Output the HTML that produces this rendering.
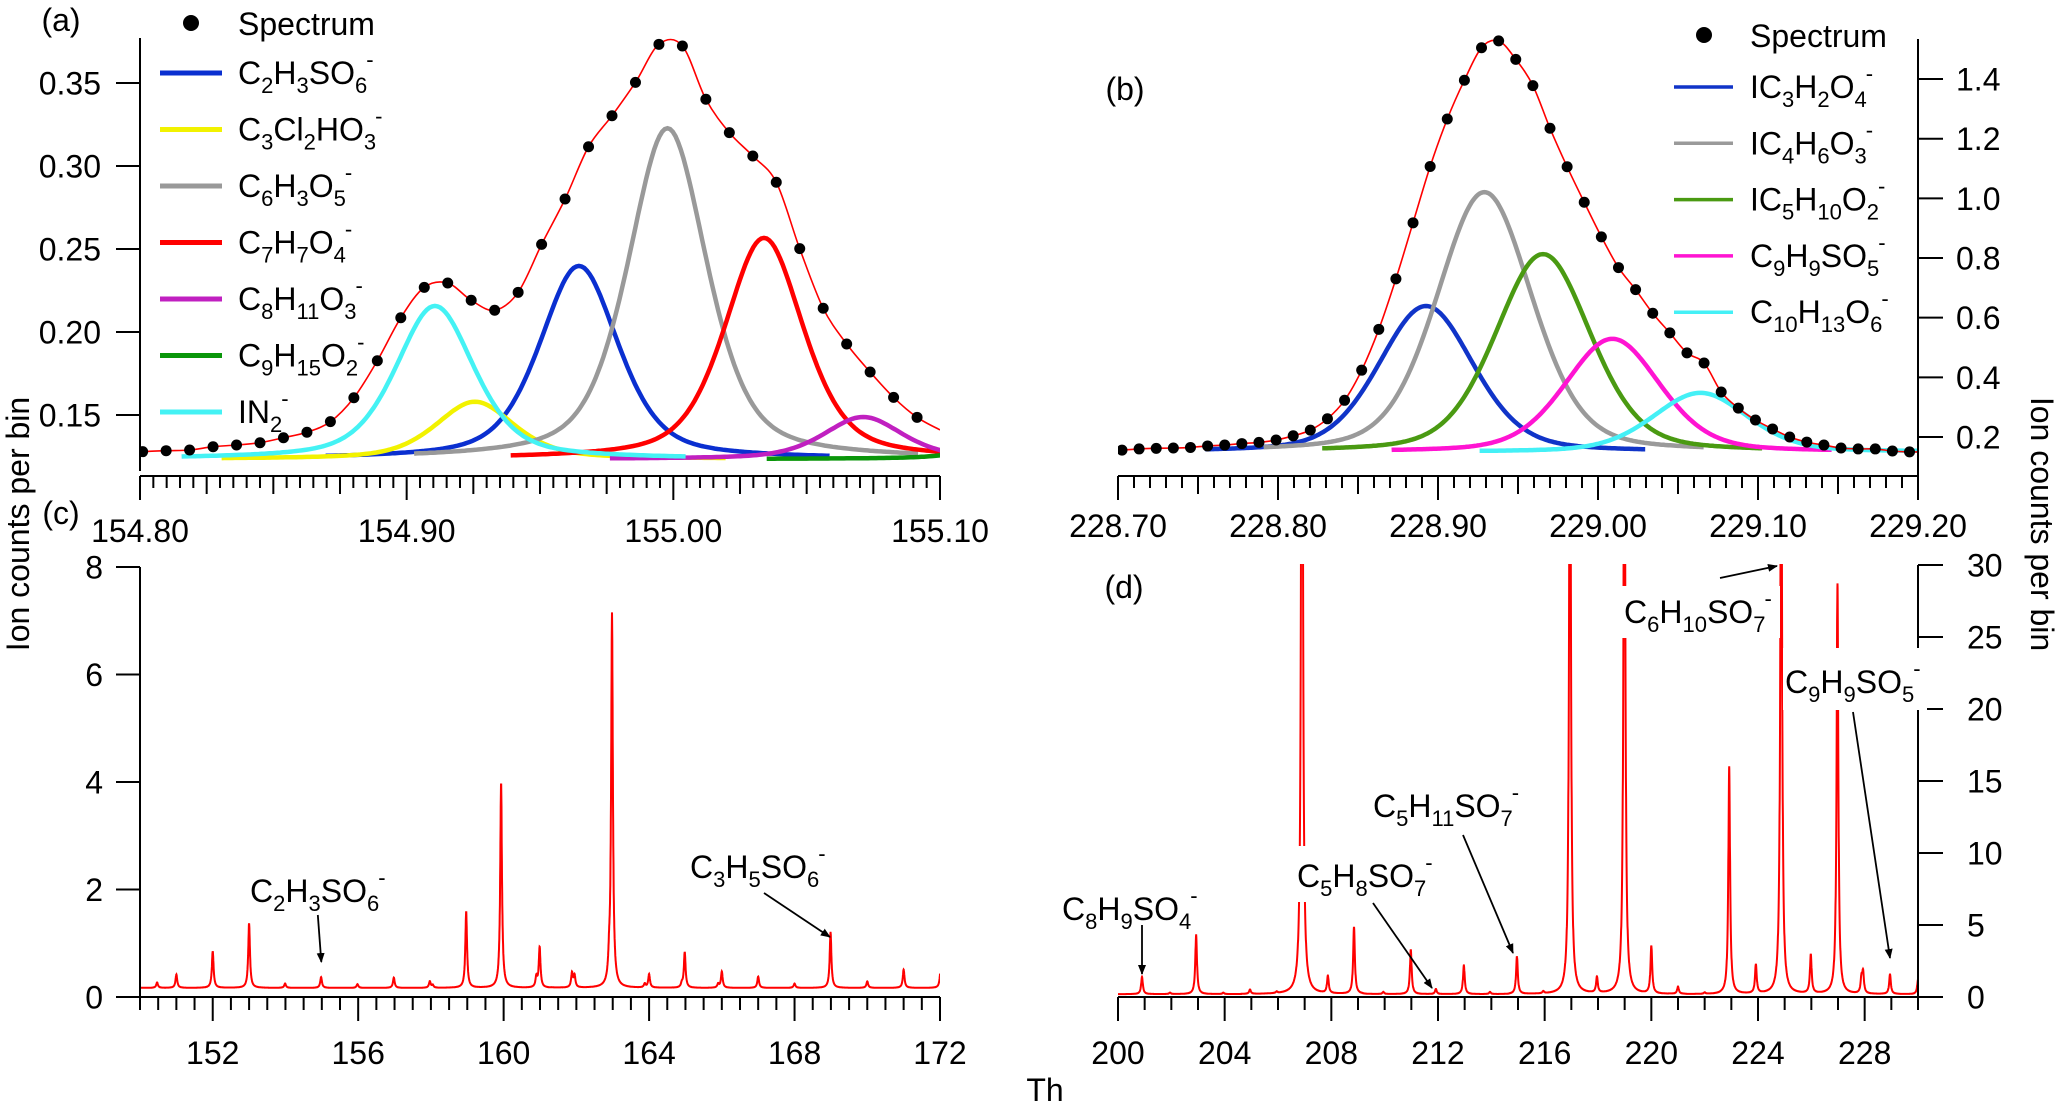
<!DOCTYPE html>
<html><head><meta charset="utf-8"><style>
html,body{margin:0;padding:0;background:#fff;}
svg{display:block;font-family:"Liberation Sans",Arial,sans-serif;}
</style></head><body>
<svg id="chart" width="2067" height="1104" viewBox="0 0 2067 1104" xmlns="http://www.w3.org/2000/svg">
<defs>
<clipPath id="clipA"><rect x="140" y="30" width="800" height="445"/></clipPath>
<clipPath id="clipB"><rect x="1118" y="30" width="800" height="445"/></clipPath>
<clipPath id="clipC"><rect x="140" y="566" width="800" height="431"/></clipPath>
<clipPath id="clipD"><rect x="1118" y="564" width="800" height="433"/></clipPath>
<marker id="arr" markerWidth="10" markerHeight="10" refX="9" refY="5" orient="auto" markerUnits="userSpaceOnUse" viewBox="0 0 10 10"><path d="M0,1 L10,5 L0,9 Z" fill="#000"/></marker>
</defs>
<g id="root"></g>
</svg>
<script>
// ---------- Panel (a) data ----------
const aDotStart = 154.801;
const aDotStep = 0.0088;
const aDotVals = [0.1279,0.1285,0.1289,0.1309,0.1319,0.1333,0.1363,0.1396,0.1460,0.1604,0.1827,0.2086,0.2269,0.2295,0.2191,0.2131,0.2239,0.2528,0.2801,0.3116,0.3303,0.3504,0.3733,0.3723,0.3402,0.3201,0.3060,0.2902,0.2502,0.2143,0.1928,0.1759,0.1606,0.1486];
const aFitEnds = [0.1275, 0.141];
const aCompNames = ["C_2H_3SO_6^-","C_3Cl_2HO_3^-","C_6H_3O_5^-","C_7H_7O_4^-","C_8H_11O_3^-","C_9H_15O_2^-","IN_2^-"];
const aCompCenters = [154.9646,154.9256,154.9978,155.034,155.0712,155.13,154.9106];
const aCompPeaks = [0.2398,0.158,0.3228,0.2567,0.1488,0.135,0.2157];
const aColors = ["#0a2fd0","#f2f200","#999999","#ff0000","#c020c0","#0a960a","#44f2f4"];
const aBase = 0.1235;
const aYTicks = [0.15,0.20,0.25,0.30,0.35];
const aXLabels = ["154.80","154.90","155.00","155.10"];
// ---------- Panel (b) data ----------
const bDotStart = 228.7025;
const bDotStep = 0.0107;
const bDotVals = [0.156,0.160,0.162,0.163,0.165,0.170,0.173,0.178,0.182,0.190,0.204,0.223,0.261,0.323,0.424,0.561,0.730,0.918,1.107,1.266,1.396,1.505,1.528,1.466,1.378,1.235,1.106,0.987,0.871,0.768,0.694,0.615,0.549,0.482,0.448,0.351,0.297,0.257,0.227,0.200,0.183,0.173,0.163,0.160,0.160,0.153,0.150];
const bFitEnds = [0.155, 0.150];
const bCompNames = ["IC_3H_2O_4^-","IC_4H_6O_3^-","IC_5H_10O_2^-","C_9H_9SO_5^-","C_10H_13O_6^-"];
const bCompCenters = [228.8925,228.929,228.9656,229.009,229.064];
const bCompPeaks = [0.639,1.021,0.813,0.529,0.348];
const bColors = ["#1034c8","#9a9a9a","#4a9a12","#ff14d2","#44f0f6"];
const bBase = 0.150;
const bYTicks = [0.2,0.4,0.6,0.8,1.0,1.2,1.4];
const bXLabels = ["228.70","228.80","228.90","229.00","229.10","229.20"];
// ---------- Panel (c) data ----------
const cMass = [150.47,151.0,152.0,153.0,153.99,154.98,155.98,156.98,157.97,158.05,158.97,159.93,160.9,160.99,161.88,161.95,162.9,162.98,163.88,164.0,164.9,164.98,165.9,166.0,167.0,168.0,168.99,170.0,171.0,172.02];
const cHeight = [0.1,0.25,0.68,1.2,0.08,0.2,0.07,0.19,0.12,0.05,1.41,3.8,0.19,0.75,0.27,0.22,0.32,6.95,0.07,0.25,0.07,0.66,0.07,0.3,0.21,0.08,1.03,0.12,0.34,0.4];
const cBase = 0.17;
const cYTicks = [0,2,4,6,8];
const cXLabels = [152,156,160,164,168,172];
// ---------- Panel (d) data ----------
const dMass = [200.9,201.95,202.93,203.95,204.95,205.95,206.9,207.87,208.85,209.95,210.98,211.92,212.97,213.95,214.96,215.95,216.95,217.96,218.99,220.0,221.0,222.0,222.92,223.92,224.87,225.98,226.98,227.88,227.94,228.95,230.0];
const dHeight = [1.2,0.1,4.1,0.1,0.3,0.1,60,1.2,4.6,0.15,3.1,0.35,2.0,0.15,2.6,0.15,50,1.1,50,3.3,0.5,0.1,15.8,2.0,45,2.7,28.5,1.0,1.4,1.35,1.0];
const dBase = 0.2;
const dYTicks = [0,5,10,15,20,25,30];
const dXLabels = [200,204,208,212,216,220,224,228];

const NS = "http://www.w3.org/2000/svg";
const root = document.getElementById("root");
function mk(tag, attrs, parent) {
  const e = document.createElementNS(NS, tag);
  for (const k in attrs) e.setAttribute(k, attrs[k]);
  (parent || root).appendChild(e);
  return e;
}
function fm(s) {
  let h = s.replace(/_(\d+)/g, '<tspan font-size="22" baseline-shift="-9">$1</tspan>');
  h = h.replace(/\^-/g, '<tspan font-size="22" baseline-shift="17" dx="-1">-</tspan>');
  return h;
}
// axis functions
const xa = v => 140 + (v - 154.8) / 0.3 * 800;
const ya = v => 415 - (v - 0.15) * 1660;
const xb = v => 1118 + (v - 228.7) * 1600;
const yb = v => 437 - (v - 0.2) * 298.3;
const xc = v => 140 + (v - 150) * 800 / 22;
const yc = v => 997 - v * 53.75;
const xd = v => 1118 + (v - 200) * 800 / 30;
const yd = v => 997 - v * 14.4;

function pv(x, c, fwhm, eta) {
  const hw = fwhm / 2, d = x - c;
  const L = 1 / (1 + (d / hw) * (d / hw));
  const G = Math.exp(-Math.LN2 * (d / hw) * (d / hw));
  return eta * L + (1 - eta) * G;
}
function catmull(pts) {
  let d = "M" + pts[0][0].toFixed(1) + "," + pts[0][1].toFixed(1);
  for (let i = 0; i < pts.length - 1; i++) {
    const p0 = pts[Math.max(0, i - 1)], p1 = pts[i], p2 = pts[i + 1], p3 = pts[Math.min(pts.length - 1, i + 2)];
    const c1x = p1[0] + (p2[0] - p0[0]) / 6, c1y = p1[1] + (p2[1] - p0[1]) / 6;
    const c2x = p2[0] - (p3[0] - p1[0]) / 6, c2y = p2[1] - (p3[1] - p1[1]) / 6;
    d += "C" + c1x.toFixed(1) + "," + c1y.toFixed(1) + " " + c2x.toFixed(1) + "," + c2y.toFixed(1) + " " + p2[0].toFixed(1) + "," + p2[1].toFixed(1);
  }
  return d;
}
function txt(x, y, str, anchor, size, name) {
  const t = mk("text", {x: x, y: y, "font-size": size || 32, "text-anchor": anchor || "start", fill: "#000"});
  t.innerHTML = fm(str);
  
  
  return t;
}
function line(x1, y1, x2, y2, w, name, color) {
  const l = mk("line", {x1: x1, y1: y1, x2: x2, y2: y2, stroke: color || "#000", "stroke-width": w || 2});
  
  
  return l;
}

// ================= PANEL A =================
const gA = mk("g", {"clip-path": "url(#clipA)"});


for (let k = 0; k < aCompNames.length; k++) {
  const pts = [];
  for (let v = aCompCenters[k] - 0.095; v <= aCompCenters[k] + 0.095; v += 0.001) {
    pts.push(xa(v).toFixed(1) + "," + ya(aBase + (aCompPeaks[k] - aBase) * pv(v, aCompCenters[k], 0.035, 0.5)).toFixed(1));
  }
  const p = mk("polyline", {points: pts.join(" "), fill: "none", stroke: aColors[k], "stroke-width": 4.5}, gA);
  
  
}
{
  const pts = [[xa(154.8), ya(aFitEnds[0])]];
  aDotVals.forEach((v, i) => pts.push([xa(aDotStart + i * aDotStep), ya(v)]));
  pts.push([xa(155.1), ya(aFitEnds[1])]);
  const f = mk("path", {d: catmull(pts), fill: "none", stroke: "#ff0000", "stroke-width": 1.6}, gA);
  
  
  aDotVals.forEach((v, i) => {
    const c = mk("circle", {cx: xa(aDotStart + i * aDotStep), cy: ya(v), r: 5.5, fill: "#000"}, gA);
    
    
  });
}
line(140, 38, 140, 471, 2, 'panel-a-y-axis');
aYTicks.forEach(v => {
  line(116, ya(v), 140, ya(v), 2, 'panel-a-y-tick');
  txt(101, ya(v) + 11.5, v.toFixed(2), "end", 32, 'panel-a-y-tick-label');
});
line(140, 476, 940, 476, 2, 'panel-a-x-axis');
for (let i = 0; i <= 60; i++) {
  const v = 154.8 + i * 0.005;
  const len = (i % 20 === 0) ? 24 : (i % 5 === 0 ? 18 : 12);
  line(xa(v), 476, xa(v), 476 + len, 2, 'panel-a-x-tick');
}
aXLabels.forEach(s => txt(xa(parseFloat(s)), 542, s, "middle", 32, 'panel-a-x-tick-label'));
txt(61, 31, "(a)", "middle", 32, 'panel-a-label');
// legend a
{
  const c = mk("circle", {cx: 191, cy: 23, r: 8, fill: "#000"});
  
  
  txt(238, 35, "Spectrum", "start", 32, 'legend-a-spectrum-label');
  for (let k = 0; k < aCompNames.length; k++) {
    const y = 73 + k * 56.5;
    line(160, y, 222, y, 5, 'legend-a-line-' + k, aColors[k]);
    txt(238, y + 11, aCompNames[k], "start", 32, 'legend-a-label-' + k);
  }
}

// ================= PANEL B =================
const gB = mk("g", {"clip-path": "url(#clipB)"});


for (let k = 0; k < bCompNames.length; k++) {
  const pts = [];
  for (let v = bCompCenters[k] - 0.138; v <= bCompCenters[k] + 0.138; v += 0.001) {
    pts.push(xb(v).toFixed(1) + "," + yb(bBase + (bCompPeaks[k] - bBase) * pv(v, bCompCenters[k], 0.07, 0.3)).toFixed(1));
  }
  const p = mk("polyline", {points: pts.join(" "), fill: "none", stroke: bColors[k], "stroke-width": 4.5}, gB);
  
  
}
{
  const pts = [];
  bDotVals.forEach((v, i) => pts.push([xb(bDotStart + i * bDotStep), yb(v)]));
  pts.push([xb(229.2), yb(bFitEnds[1])]);
  const f = mk("path", {d: catmull(pts), fill: "none", stroke: "#ff0000", "stroke-width": 1.6}, gB);
  
  
  bDotVals.forEach((v, i) => {
    const c = mk("circle", {cx: xb(bDotStart + i * bDotStep), cy: yb(v), r: 5.5, fill: "#000"}, gB);
    
    
  });
}
line(1918, 39, 1918, 476, 2, 'panel-b-y-axis');
bYTicks.forEach(v => {
  line(1918, yb(v), 1943, yb(v), 2, 'panel-b-y-tick');
  txt(1956, yb(v) + 11.5, v.toFixed(1), "start", 32, 'panel-b-y-tick-label');
});
line(1118, 476, 1918, 476, 2, 'panel-b-x-axis');
for (let i = 0; i <= 50; i++) {
  const v = 228.7 + i * 0.01;
  const len = (i % 10 === 0) ? 24 : (i % 5 === 0 ? 18 : 12);
  line(xb(v), 476, xb(v), 476 + len, 2, 'panel-b-x-tick');
}
bXLabels.forEach(s => txt(xb(parseFloat(s)), 537, s, "middle", 32, 'panel-b-x-tick-label'));
txt(1125, 100, "(b)", "middle", 32, 'panel-b-label');
{
  const c = mk("circle", {cx: 1704, cy: 35, r: 8, fill: "#000"});
  
  
  txt(1750, 47, "Spectrum", "start", 32, 'legend-b-spectrum-label');
  for (let k = 0; k < bCompNames.length; k++) {
    const y = 87 + k * 56.3;
    line(1674, y, 1733, y, 3.5, 'legend-b-line-' + k, bColors[k]);
    txt(1750, y + 11, bCompNames[k], "start", 32, 'legend-b-label-' + k);
  }
}

// ================= PANEL C =================
function spectrum(lo, hi, step, mass, height, base, gam) {
  const out = [];
  for (let v = lo; v <= hi + 1e-9; v += step) {
    let s = base;
    for (let k = 0; k < mass.length; k++) {
      const d = (v - mass[k]) / gam;
      if (Math.abs(d) < 60) s += height[k] / (1 + d * d);
    }
    out.push([v, s]);
  }
  return out;
}
{
  const g = mk("g", {"clip-path": "url(#clipC)"});
  
  
  const sp = spectrum(150, 172, 0.004, cMass, cHeight, cBase, 0.028);
  const p = mk("polyline", {points: sp.map(q => xc(q[0]).toFixed(1) + "," + yc(q[1]).toFixed(1)).join(" "), fill: "none", stroke: "#ff0000", "stroke-width": 2}, g);
  
  
}
line(140, 567, 140, 997, 2, 'panel-c-y-axis');
cYTicks.forEach(v => {
  line(116, yc(v), 140, yc(v), 2, 'panel-c-y-tick');
  txt(103, yc(v) + 11.5, String(v), "end", 32, 'panel-c-y-tick-label');
});
line(140, 997, 940, 997, 2, 'panel-c-x-axis');
for (let i = 0; i <= 44; i++) {
  const v = 150 + i * 0.5;
  const major = (v >= 152 && (v - 152) % 4 === 0);
  line(xc(v), 997, xc(v), 997 + (major ? 24 : 13), 2, 'panel-c-x-tick');
}
cXLabels.forEach(v => txt(xc(v), 1064, String(v), "middle", 32, 'panel-c-x-tick-label'));
txt(61, 524, "(c)", "middle", 32, 'panel-c-label');
txt(250, 902, "C_2H_3SO_6^-", "start", 32, 'annotation-c2h3so6');
{
  const a = line(xc(155.0) - 4, 915, xc(155.0) - 0.5, 962, 1.8, 'annotation-c2h3so6-arrow');
  a.setAttribute("marker-end", "url(#arr)");
}
txt(690, 878, "C_3H_5SO_6^-", "start", 32, 'annotation-c3h5so6');
{
  const a = line(764, 893, xc(169) - 1, 937, 1.8, 'annotation-c3h5so6-arrow');
  a.setAttribute("marker-end", "url(#arr)");
}

// ================= PANEL D =================
{
  const g = mk("g", {"clip-path": "url(#clipD)"});
  
  
  const sp = spectrum(200, 230, 0.004, dMass, dHeight, dBase, 0.038);
  const p = mk("polyline", {points: sp.map(q => xd(q[0]).toFixed(1) + "," + yd(q[1]).toFixed(1)).join(" "), fill: "none", stroke: "#ff0000", "stroke-width": 2}, g);
  
  
}
line(1918, 565, 1918, 997, 2, 'panel-d-y-axis');
dYTicks.forEach(v => {
  line(1918, yd(v), 1943, yd(v), 2, 'panel-d-y-tick');
  txt(1967, yd(v) + 11.5, String(v), "start", 32, 'panel-d-y-tick-label');
});
line(1118, 997, 1918, 997, 2, 'panel-d-x-axis');
for (let i = 0; i <= 30; i++) {
  const v = 200 + i;
  line(xd(v), 997, xd(v), 997 + (i % 4 === 0 ? 24 : 13), 2, 'panel-d-x-tick');
}
dXLabels.forEach(v => txt(xd(v), 1064, String(v), "middle", 32, 'panel-d-x-tick-label'));
txt(1124, 598, "(d)", "middle", 32, 'panel-d-label');
function whiteBox(x, y, w, h, name) {
  const r = mk("rect", {x: x, y: y, width: w, height: h, fill: "#fff"});
  
  
}
whiteBox(1622, 586, 158, 52, 'label-bg-c6h10so7');
whiteBox(1783, 648, 144, 62, 'label-bg-c9h9so5');
whiteBox(1294, 846, 145, 56, 'label-bg-c5h8so7');
txt(1062, 920, "C_8H_9SO_4^-", "start", 32, 'annotation-c8h9so4');
{ const a = line(xd(200.9), 925, xd(200.9), 974, 1.8, 'annotation-c8h9so4-arrow'); a.setAttribute("marker-end", "url(#arr)"); }
txt(1297, 887, "C_5H_8SO_7^-", "start", 32, 'annotation-c5h8so7');
{ const a = line(1373, 903, 1432, 988, 1.8, 'annotation-c5h8so7-arrow'); a.setAttribute("marker-end", "url(#arr)"); }
txt(1373, 817, "C_5H_11SO_7^-", "start", 32, 'annotation-c5h11so7');
{ const a = line(1463, 835, 1513, 953, 1.8, 'annotation-c5h11so7-arrow'); a.setAttribute("marker-end", "url(#arr)"); }
txt(1624, 623, "C_6H_10SO_7^-", "start", 32, 'annotation-c6h10so7');
{ const a = line(1720, 578, 1777, 566, 1.8, 'annotation-c6h10so7-arrow'); a.setAttribute("marker-end", "url(#arr)"); }
txt(1785, 693, "C_9H_9SO_5^-", "start", 32, 'annotation-c9h9so5');
{ const a = line(1853, 712, 1890, 958, 1.8, 'annotation-c9h9so5-arrow'); a.setAttribute("marker-end", "url(#arr)"); }

// axis titles
{
  const t1 = mk("text", {x: 0, y: 0, "font-size": 32, "text-anchor": "middle", transform: "translate(29,524) rotate(-90)"});
  t1.textContent = "Ion counts per bin";
  
  
  const t2 = mk("text", {x: 0, y: 0, "font-size": 32, "text-anchor": "middle", transform: "translate(2031,524) rotate(90)"});
  t2.textContent = "Ion counts per bin";
  
  
  const t3 = mk("text", {x: 1045, y: 1101, "font-size": 32, "text-anchor": "middle"});
  t3.textContent = "Th";
  
  
}
</script>
</body></html>
